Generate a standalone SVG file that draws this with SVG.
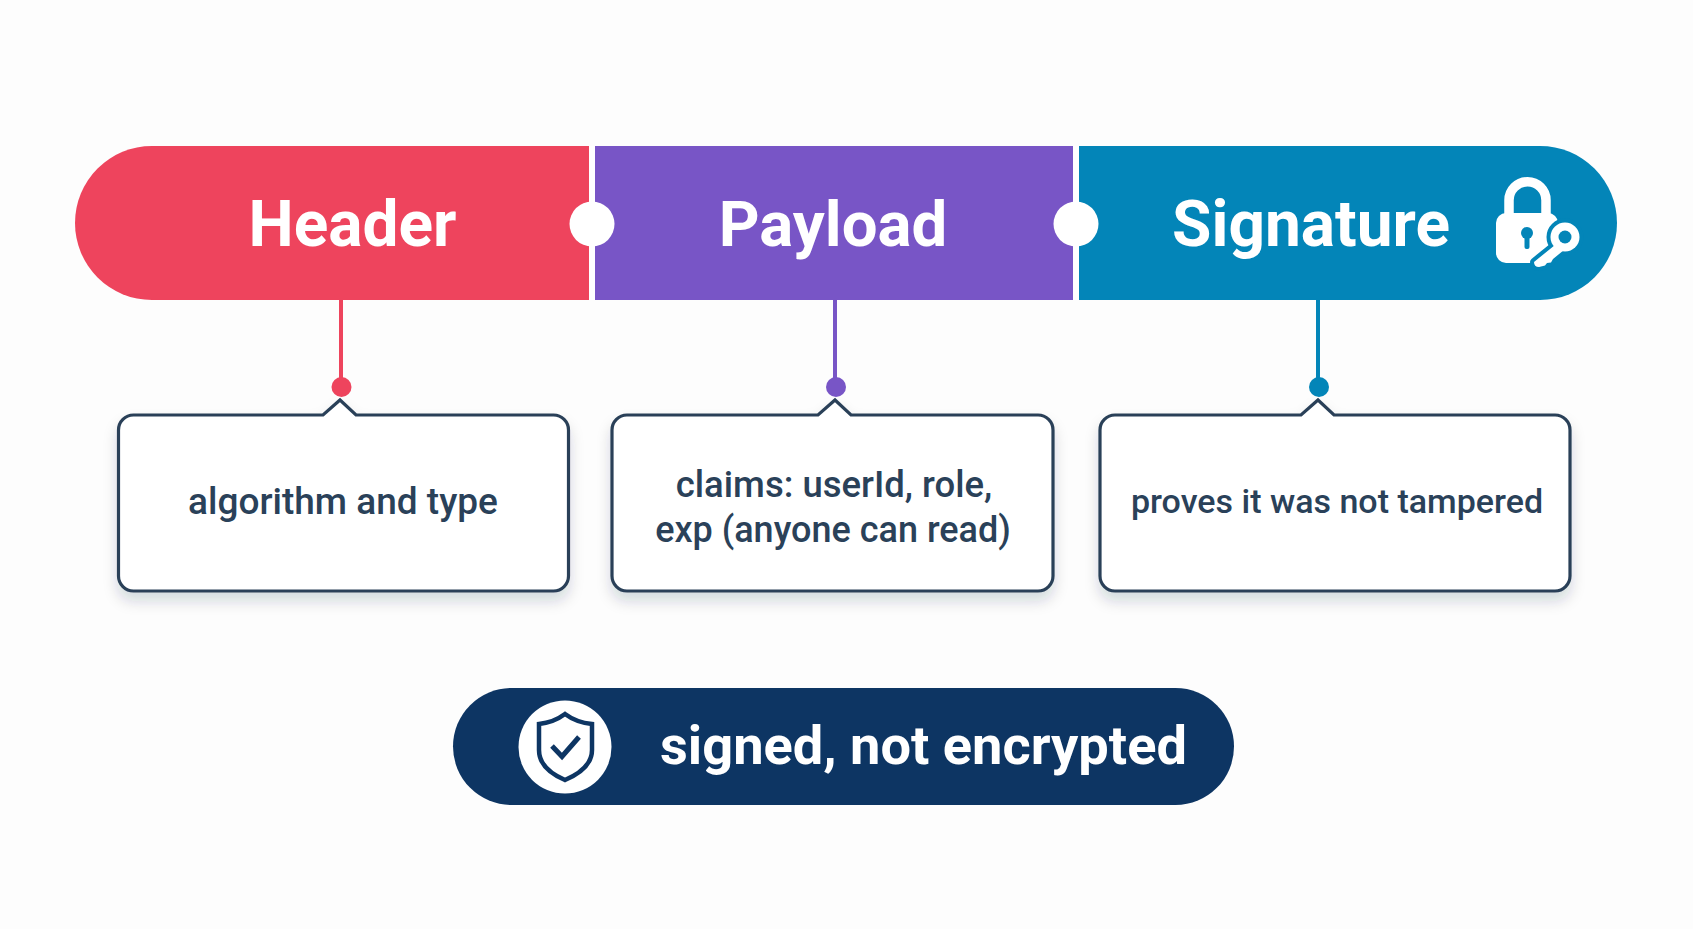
<svg xmlns="http://www.w3.org/2000/svg" width="1693" height="929" viewBox="0 0 1693 929">
<style>
.t{font-family:Roboto,"Liberation Sans",sans-serif;font-weight:700;fill:#fff}
.h{font-size:64px;text-anchor:middle}
.d{font-family:Roboto,"Liberation Sans",sans-serif;font-weight:500;fill:#2a4159;text-anchor:middle}
.box{fill:#fff;stroke:#2a4159;stroke-width:3.2;stroke-linejoin:miter;filter:url(#sh)}
.stem{stroke-width:4;fill:none}
</style>
<defs>
<filter id="sh" x="-10%" y="-10%" width="120%" height="130%"><feDropShadow dx="0" dy="9" stdDeviation="7" flood-color="#1a2a3a" flood-opacity="0.16"/></filter>
</defs>
<rect width="1693" height="929" fill="#fdfdfd"/>
<g id="connectors">
<line class="stem" x1="341" y1="300" x2="341" y2="387" stroke="#ee445d"/>
<line class="stem" x1="835" y1="300" x2="835" y2="387" stroke="#7855c6"/>
<line class="stem" x1="1318" y1="300" x2="1318" y2="387" stroke="#0385b8"/>
<circle cx="341.500" cy="387" r="10" fill="#ee445d"/>
<circle cx="836" cy="387" r="10" fill="#7855c6"/>
<circle cx="1319" cy="387" r="10" fill="#0385b8"/>
</g>
<g id="header">
<path d="M589 146H152a77 77 0 0 0 0 154H589Z" fill="#ee445d"/>
<text class="t h" x="352.500" y="246">Header</text>
</g>
<g id="payload">
<rect x="595" y="146" width="478" height="154" fill="#7855c6"/>
<text class="t h" x="833" y="246" font-size="63.500" style="font-size:63.500px">Payload</text>
</g>
<g id="signature">
<path d="M1079 146H1540a77 77 0 0 1 0 154H1079Z" fill="#0385b8"/>
<text class="t h" x="1311" y="246">Signature</text>
<g id="lock-key" fill="#fff">
<path d="M1509 215V200.250a18.500 18.500 0 0 1 37 0V215" fill="none" stroke="#fff" stroke-width="9.500"/>
<rect x="1496" y="213" width="62" height="50" rx="10"/>
<circle cx="1527" cy="233" r="6" fill="#0385b8"/>
<rect x="1524.500" y="233" width="5" height="16" rx="2" fill="#0385b8"/>
<g stroke="#0385b8" stroke-width="8" stroke-linejoin="round">
<circle cx="1565" cy="237" r="14.500"/>
<path d="M1555 245L1534 262Q1534 267 1539 267L1545 265.500L1547 263L1551 262.500L1553 259L1564 250Z"/>
</g>
<circle cx="1565" cy="237" r="14.500"/>
<path d="M1555 245L1534 262Q1534 267 1539 267L1545 265.500L1547 263L1551 262.500L1553 259L1564 250Z"/>
<circle cx="1565" cy="237" r="6.500" fill="#0385b8"/>
</g>
</g>
<g id="sep-1"><circle cx="592" cy="224" r="22.500" fill="#fff"/><rect x="589" y="146" width="6" height="154" fill="#fff"/></g>
<g id="sep-2"><circle cx="1076" cy="224" r="22.500" fill="#fff"/><rect x="1073" y="146" width="6" height="154" fill="#fff"/></g>
<g id="box-header">
<path class="box" d="M133.500 415H323L340 400L356 415H553.500a15 15 0 0 1 15 15V576a15 15 0 0 1-15 15H133.500a15 15 0 0 1-15-15V430a15 15 0 0 1 15-15Z"/>
<text class="d" x="343" y="513.500" font-size="37">algorithm and type</text>
</g>
<g id="box-payload">
<path class="box" d="M627 415H818L835 400L851 415H1038a15 15 0 0 1 15 15V576a15 15 0 0 1-15 15H627a15 15 0 0 1-15-15V430a15 15 0 0 1 15-15Z"/>
<text class="d" x="834" y="497" font-size="36.500">claims: userId, role,</text>
<text class="d" x="833" y="541.500" font-size="36">exp (anyone can read)</text>
</g>
<g id="box-signature">
<path class="box" d="M1115 415H1301L1318 400L1334 415H1555a15 15 0 0 1 15 15V576a15 15 0 0 1-15 15H1115a15 15 0 0 1-15-15V430a15 15 0 0 1 15-15Z"/>
<text class="d" x="1337" y="513" font-size="34">proves it was not tampered</text>
</g>
<g id="pill">
<rect x="453" y="688" width="781" height="117" rx="58.500" fill="#0d3563"/>
<circle cx="565" cy="747" r="46.500" fill="#fff"/>
<path d="M565 714C573 720 582 723 592 724V750C592 764 579 774 565 780C551 774 539 764 539 750V724C548 723 557 720 565 714Z" fill="none" stroke="#0d3563" stroke-width="4.500"/>
<path d="M552 746L562 756.500L579 737" fill="none" stroke="#0d3563" stroke-width="5"/>
<text class="t" x="660" y="764" font-size="54.200">signed, not encrypted</text>
</g>
</svg>
